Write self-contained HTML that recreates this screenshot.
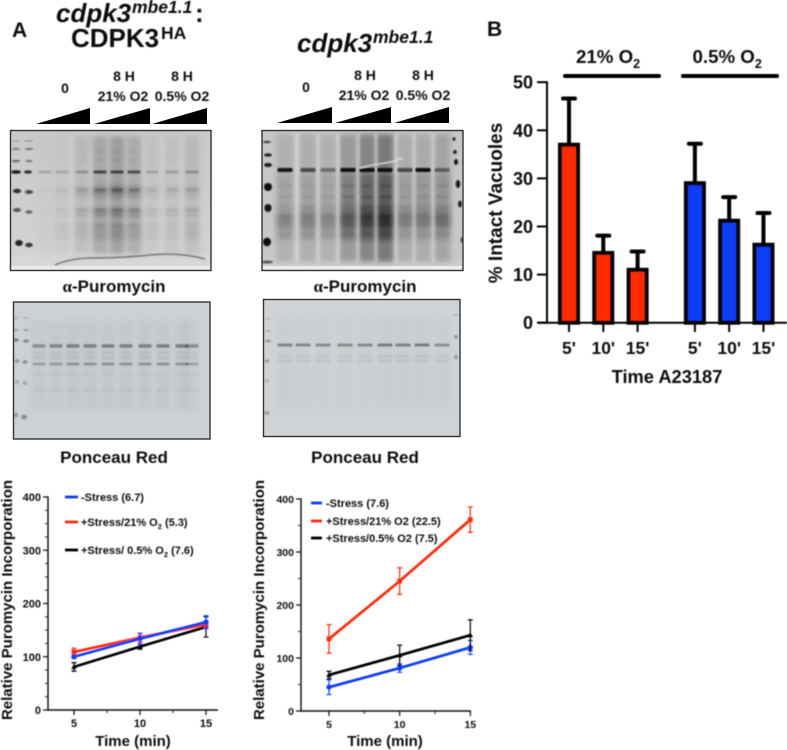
<!DOCTYPE html>
<html lang="en">
<head>
<meta charset="utf-8">
<title>CDPK3 figure</title>
<style>
html,body{margin:0;padding:0;background:#fff;}
svg{display:block;font-family:"Liberation Sans",sans-serif;}
text{font-weight:bold;fill:#0d0d0d;}
</style>
</head>
<body>
<svg id="fig" width="787" height="750" viewBox="0 0 787 750" xmlns="http://www.w3.org/2000/svg">
<defs>
<filter id="marks" x="-5%" y="-5%" width="110%" height="110%"><feGaussianBlur stdDeviation="0.8"/></filter>
<filter id="soft" x="-5%" y="-5%" width="110%" height="110%"><feGaussianBlur stdDeviation="1.35"/></filter>
<filter id="softer" x="-5%" y="-5%" width="110%" height="110%"><feGaussianBlur stdDeviation="2.6"/></filter>
<filter id="txt" x="-5%" y="-10%" width="110%" height="120%"><feGaussianBlur stdDeviation="0.4"/></filter>
<linearGradient id="bg1" x1="0" y1="0" x2="0" y2="1"><stop offset="0" stop-color="#c9c9c9"/><stop offset="0.85" stop-color="#d2d2d2"/><stop offset="1" stop-color="#dadada"/></linearGradient>
<linearGradient id="bg2" x1="0" y1="0" x2="0" y2="1"><stop offset="0" stop-color="#c6c6c6"/><stop offset="0.9" stop-color="#c8c8c8"/><stop offset="1" stop-color="#d0d0d0"/></linearGradient>
<clipPath id="clip-blot1"><rect x="10" y="130" width="201" height="140"/></clipPath>
<clipPath id="clip-blot2"><rect x="262" y="130" width="201" height="140"/></clipPath>
<clipPath id="clip-pon1"><rect x="13" y="302" width="197" height="137"/></clipPath>
<clipPath id="clip-pon2"><rect x="263" y="299" width="197" height="137"/></clipPath>
</defs>

<g id="panel-labels" filter="url(#txt)">
<text x="12" y="37" font-size="21">A</text>
<text x="487" y="36" font-size="21">B</text>

<g>
<text x="56" y="22" font-size="26" font-style="italic">cdpk3</text>
<text x="132" y="13" font-size="17.5" font-style="italic">mbe1.1</text>
<text x="195" y="22" font-size="26">:</text>
<text x="71" y="47" font-size="26">CDPK3</text>
<text x="161" y="39" font-size="17.5">HA</text>
</g>
<g>
<text x="297" y="52" font-size="26" font-style="italic">cdpk3</text>
<text x="373" y="43" font-size="17.5" font-style="italic">mbe1.1</text>
</g>

<g font-size="14" text-anchor="middle">
<text x="65" y="93">0</text>
<text x="124" y="81">8 H</text>
<text x="123" y="101">21% O2</text>
<text x="182" y="81">8 H</text>
<text x="182" y="101">0.5% O2</text>
</g>
<g font-size="14" text-anchor="middle">
<text x="306" y="92">0</text>
<text x="365" y="80">8 H</text>
<text x="364" y="100">21% O2</text>
<text x="423" y="80">8 H</text>
<text x="423" y="100">0.5% O2</text>
</g>
</g>

<g fill="#000">
<polygon points="36,124 90,108 90,124"/><polygon points="94,124 150,108 150,124"/><polygon points="152,124 207,108 207,124"/>
<polygon points="277,123 332,107 332,123"/><polygon points="335,123 391,107 391,123"/><polygon points="394,123 449,107 449,123"/>
</g>

<g id="blots"></g>

<g filter="url(#txt)" font-size="17" text-anchor="middle">
<text x="114" y="292"><tspan font-family="Liberation Serif">α</tspan>-Puromycin</text>
<text x="365" y="292"><tspan font-family="Liberation Serif">α</tspan>-Puromycin</text>
<text x="114" y="463">Ponceau Red</text>
<text x="365" y="463">Ponceau Red</text>
</g>

<g id="bar-chart" filter="url(#txt)"></g>
<g id="line-left" filter="url(#txt)"></g>
<g id="line-right" filter="url(#txt)"></g>
</svg>

<script>
// ---- Bar chart data (panel B) ----
const barCategories = ["5'", "10'", "15'", "5'", "10'", "15'"];
const barGroups = ["21", "21", "21", "0.5", "0.5", "0.5"];
const barValues = [37, 14.5, 11, 29, 21.2, 16.2];
const barErrors = [9.6, 3.6, 3.8, 8.2, 4.9, 6.6];
const barYTicks = [0, 10, 20, 30, 40, 50];

// ---- Line chart data, left (cdpk3 complement) ----
const leftTimes = [5, 10, 15];
const leftYTicks = [0, 100, 200, 300, 400];
const leftMinorTicks = [25, 50, 75, 125, 150, 175, 225, 250, 275, 325, 350, 375];
const leftBlue = [100, 134, 165];
const leftBlueErr = [3, 10, 12];
const leftRed = [109, 136, 161];
const leftRedErr = [7, 8, 5];
const leftBlack = [81, 119, 156];
const leftBlackErr = [8, 5, 19];

// ---- Line chart data, right (cdpk3) ----
const rightTimes = [5, 10, 15];
const rightYTicks = [0, 100, 200, 300, 400];
const rightMinorTicks = [50, 150, 250, 350];
const rightBlue = [45, 81, 120];
const rightBlueErr = [14, 8, 13];
const rightRed = [136, 245, 361];
const rightRedErr = [27, 25, 24];
const rightBlack = [68, 105, 143];
const rightBlackErr = [7, 19, 29];

const NS = 'http://www.w3.org/2000/svg';
function mk(tag, attrs, parent) {
  const e = document.createElementNS(NS, tag);
  for (const k in attrs) e.setAttribute(k, attrs[k]);
  parent.appendChild(e);
  return e;
}
function label(parent, x, y, str, size, anchor, extra) {
  const t = mk('text', Object.assign({x: x, y: y, 'font-size': size, 'text-anchor': anchor}, extra || {}), parent);
  t.textContent = str;
  return t;
}

/* ---------- Panel B bar chart ---------- */
(function () {
  const g = document.getElementById('bar-chart');
  const yScale = v => 322.7 - v * 4.81;
  const xScale = i => 569 + 34.3 * (i < 3 ? i : i + 0.67);
  const colors = {"21": "#ff2a00", "0.5": "#0a3cf5"};

  barValues.forEach(function (v, i) {
    const cx = xScale(i);
    const errLine = mk('line', {x1: cx, x2: cx, y1: yScale(v), y2: yScale(v + barErrors[i]), stroke: '#000', 'stroke-width': 4}, g);
    
    
    const errCap = mk('line', {x1: cx - 6, x2: cx + 6, y1: yScale(v + barErrors[i]), y2: yScale(v + barErrors[i]), stroke: '#000', 'stroke-width': 4, 'stroke-linecap': 'round'}, g);
    
    
    const bar = mk('rect', {x: cx - 9, y: yScale(v), width: 18, height: yScale(0) - yScale(v), fill: colors[barGroups[i]], stroke: '#000', 'stroke-width': 4}, g);
    
    
    const tick = mk('line', {x1: cx, x2: cx, y1: 323, y2: 332, stroke: '#000', 'stroke-width': 2}, g);
    
    
    const lab = label(g, cx, 354, barCategories[i], 17.5, 'middle');
    
    
  });

  const yAxis = mk('line', {x1: 547, x2: 547, y1: yScale(50) - 1, y2: 323.7, stroke: '#000', 'stroke-width': 2}, g);
  
  
  const xAxis = mk('line', {x1: 537, x2: 787, y1: 322.7, y2: 322.7, stroke: '#000', 'stroke-width': 2}, g);
  
  

  barYTicks.forEach(function (v) {
    const t = mk('line', {x1: 537, x2: 547, y1: yScale(v), y2: yScale(v), stroke: '#000', 'stroke-width': 2}, g);
    
    
    const l = label(g, 533, yScale(v) + 6.5, String(v), 18, 'end');
    
    
  });

  const yTitle = label(g, 0, 0, '% Intact Vacuoles', 19, 'middle', {transform: 'translate(502,203) rotate(-90)'});
  
  
  const xTitle = label(g, 667, 383, 'Time A23187', 18.3, 'middle');
  
  

  const b1 = mk('line', {x1: 565, x2: 659, y1: 76, y2: 76, stroke: '#000', 'stroke-width': 4, 'stroke-linecap': 'round'}, g);
  
  
  const b2 = mk('line', {x1: 683, x2: 777, y1: 76, y2: 76, stroke: '#000', 'stroke-width': 4, 'stroke-linecap': 'round'}, g);
  
  

  const g1 = label(g, 576, 63, '21% O', 18.7, 'start');
  
  
  const g1s = mk('tspan', {dy: 5, 'font-size': 12.5}, g1);
  g1s.textContent = '2';
  const g2 = label(g, 692.5, 63, '0.5% O', 18.7, 'start');
  
  
  const g2s = mk('tspan', {dy: 5, 'font-size': 12.5}, g2);
  g2s.textContent = '2';
})();

/* ---------- Panel A line charts ---------- */
const BLUE = '#0f3cf0', RED = '#ff2a0a', BLACK = '#000';
function drawLines(g, c) {
  const x = t => c.x5 + (t - 5) * c.xPer;
  const y = v => c.y0 - v * c.yPer;

  const yAx = mk('line', {x1: c.axisX, x2: c.axisX, y1: y(400) - 0.7, y2: c.y0 + 0.7, stroke: '#111', 'stroke-width': 1.4}, g);
  
  
  const xAx = mk('line', {x1: c.axisX, x2: c.axisEnd, y1: c.y0, y2: c.y0, stroke: '#111', 'stroke-width': 1.4}, g);
  
  

  c.yTicks.forEach(function (v) {
    const t = mk('line', {x1: c.axisX - 5, x2: c.axisX, y1: y(v), y2: y(v), stroke: '#111', 'stroke-width': 1.2}, g);
    
    
    const l = label(g, c.axisX - 7, y(v) + 4, String(v), c.tickSize, 'end');
    
    
  });
  c.minor.forEach(function (v) {
    const t = mk('line', {x1: c.axisX - 3, x2: c.axisX, y1: y(v), y2: y(v), stroke: '#111', 'stroke-width': 0.9}, g);
    
    
  });
  c.times.forEach(function (v) {
    const t = mk('line', {x1: x(v), x2: x(v), y1: c.y0, y2: c.y0 + 5, stroke: '#111', 'stroke-width': 1.2}, g);
    
    
    const l = label(g, x(v), c.y0 + 17, String(v), c.tickSize, 'middle');
    
    
  });
  [7.5, 12.5].forEach(function (v) {
    const t = mk('line', {x1: x(v), x2: x(v), y1: c.y0, y2: c.y0 + 3, stroke: '#111', 'stroke-width': 0.9}, g);
    
    
  });

  c.series.forEach(function (s) {
    s.vals.forEach(function (v, i) {
      const px = x(c.times[i]);
      const e = mk('path', {
        d: 'M' + (px - 2.5) + ' ' + y(v + s.err[i]) + 'H' + (px + 2.5) + 'M' + px + ' ' + y(v + s.err[i]) + 'V' + y(v - s.err[i]) + 'M' + (px - 2.5) + ' ' + y(v - s.err[i]) + 'H' + (px + 2.5),
        fill: 'none', stroke: s.color, 'stroke-width': 1.2}, g);
      
      
      if (s.marker === 'circle') {
        const m = mk('circle', {cx: px, cy: y(v), r: 2.6, fill: s.color}, g);
        
        
      } else if (s.marker === 'square') {
        const m = mk('rect', {x: px - 2.4, y: y(v) - 2.4, width: 4.8, height: 4.8, fill: s.color}, g);
        
        
      } else {
        const m = mk('path', {d: 'M' + px + ' ' + (y(v) - 3) + 'l2.8 5h-5.6z', fill: s.color}, g);
        
        
      }
    });
    const pts = s.vals.map(function (v, i) { return x(c.times[i]) + ',' + y(v); }).join(' ');
    const ln = mk('polyline', {points: pts, fill: 'none', stroke: s.color, 'stroke-width': 2.7}, g);
    
    
  });

  const xT = label(g, c.xTitleX, 746, 'Time (min)', 15, 'middle');
  
  
  const yT = label(g, 0, 0, 'Relative Puromycin Incorporation', 15, 'middle', {transform: 'translate(' + c.yTitleX + ',600) rotate(-90)'});
  
  
}

drawLines(document.getElementById('line-left'), {
  x5: 74, xPer: 13.2, y0: 710, yPer: 213 / 400, axisX: 48, axisEnd: 218, tickSize: 11,
  times: leftTimes, yTicks: leftYTicks, minor: leftMinorTicks, xTitleX: 133, yTitleX: 12,
  series: [
    {vals: leftBlack, err: leftBlackErr, color: BLACK, marker: 'tri'},
    {vals: leftRed, err: leftRedErr, color: RED, marker: 'square'},
    {vals: leftBlue, err: leftBlueErr, color: BLUE, marker: 'circle'}
  ]
});
drawLines(document.getElementById('line-right'), {
  x5: 329, xPer: 14.13, y0: 711, yPer: 212 / 400, axisX: 301, axisEnd: 471, tickSize: 10.5,
  times: rightTimes, yTicks: rightYTicks, minor: rightMinorTicks, xTitleX: 385, yTitleX: 264,
  series: [
    {vals: rightBlue, err: rightBlueErr, color: BLUE, marker: 'circle'},
    {vals: rightBlack, err: rightBlackErr, color: BLACK, marker: 'tri'},
    {vals: rightRed, err: rightRedErr, color: RED, marker: 'square'}
  ]
});

/* legends */
(function () {
  const gl = document.getElementById('line-left');
  const gr = document.getElementById('line-right');
  function entry(g, x1, x2, y, color, tx, str, sub, tail) {
    const ln = mk('line', {x1: x1, x2: x2, y1: y, y2: y, stroke: color, 'stroke-width': 2.8}, g);
    
    
    const t = label(g, tx, y + 4, str, 11, 'start');
    
    
    if (sub) {
      const s = mk('tspan', {dy: 3, 'font-size': 7.5}, t);
      s.textContent = sub;
      const r = mk('tspan', {dy: -3}, t);
      r.textContent = tail;
    }
  }
  entry(gl, 65, 78, 497, BLUE, 81, '-Stress (6.7)');
  entry(gl, 65, 78, 522, RED, 81, '+Stress/21% O', '2', ' (5.3)');
  entry(gl, 65, 78, 550, BLACK, 81, '+Stress/ 0.5% O', '2', ' (7.6)');
  entry(gr, 311, 322, 503, BLUE, 326, '-Stress (7.6)');
  entry(gr, 311, 322, 521, RED, 326, '+Stress/21% O2 (22.5)');
  entry(gr, 311, 322, 538, BLACK, 326, '+Stress/0.5% O2 (7.5)');
})();

/* ---------- Gel / membrane images (decorative photographic panels) ---------- */
(function () {
  const root = document.getElementById('blots');

  function panel(o) {
    const g = mk('g', {'clip-path': 'url(#' + o.clip + ')'}, root);
    
    
    mk('rect', {x: o.x, y: o.y, width: o.w, height: o.h, fill: o.bg}, g);
    const wide = mk('g', {filter: 'url(#softer)'}, g);
    const fine = mk('g', {filter: 'url(#soft)'}, g);
    const sharp = mk('g', {filter: 'url(#marks)'}, g);
    o.lanes.forEach(function (l, i) {
      mk('rect', {x: l[0] - o.laneW / 2, y: o.smearTop, width: o.laneW, height: o.smearH, fill: o.smear, opacity: l[1] * o.smearGain}, wide);
      o.deep.forEach(function (d) {
        mk('rect', {x: l[0] - o.laneW / 2, y: d[0], width: o.laneW, height: d[1], fill: '#111', opacity: Math.min(1, l[1] * d[2])}, wide);
      });
      o.bands.forEach(function (b) {
        const isMain = b[3];
        mk('rect', {x: l[0] - o.laneW / 2 + 1, y: b[0] - b[1] / 2, width: o.laneW - 2, height: b[1], rx: 1, fill: '#0a0a0a',
          opacity: Math.min(1, b[2] * (isMain ? (o.main ? o.main[i] : 1) : l[1]))}, isMain ? sharp : fine);
      });
    });
    o.gaps.forEach(function (x) {
      mk('rect', {x: x - 1.5, y: o.smearTop, width: 3, height: o.smearH, fill: '#dedede', opacity: o.gapOp}, fine);
    });
    o.markers.forEach(function (m) {
      mk('ellipse', {cx: m[0], cy: m[1], rx: m[2], ry: m[3], fill: '#0a0a0a', opacity: m[4]}, sharp);
    });
    (o.extra || []).forEach(function (f) { f(g, sharp); });
    const frame = mk('rect', {x: o.x, y: o.y, width: o.w, height: o.h, fill: 'none', stroke: '#333', 'stroke-width': 1.4}, root);
    
    
  }

  panel({
    name: 'puromycin-blot-left', clip: 'clip-blot1', x: 10.5, y: 130.5, w: 200.5, h: 140, bg: 'url(#bg1)',
    laneW: 15, smear: '#555', smearTop: 136, smearH: 118, smearGain: 0.5,
    lanes: [[45, .03], [62, .1], [82, .28], [100, .6], [117, .76], [134, .56], [152, .16], [172, .2], [192, .28]],
    main: [.3, .3, .4, 1.1, 1.1, 1, .3, .35, .45],
    deep: [[186, 10, .4], [208, 8, .35], [222, 18, .2]],
    bands: [[172, 3, .55, 1], [190, 2.4, .5], [198, 2, .15], [210, 2.4, .3], [216, 2, .2], [160, 2, .12], [152, 2, .1], [226, 2, .12]],
    gaps: [72, 91, 109, 126, 143, 162, 182],
    gapOp: .12,
    markers: [[16, 172, 5, 1.8, .95], [28, 172, 4, 1.6, .85], [17, 191, 4, 2.2, .85], [29, 192, 4, 2, .7],
      [17, 210, 4, 2, .65], [29, 212, 3.6, 1.8, .5], [19, 243, 3.8, 3, .9], [29, 245, 3.8, 2.2, .8],
      [16, 161, 4, 1.2, .5], [29, 161, 3.6, 1.2, .4], [16, 149, 4, 1, .45], [29, 149, 4, 1, .45], [16, 141, 3, .7, .2], [29, 141, 5, .7, .25]],
    extra: [function (g, sharp) {
      mk('path', {d: 'M55 265Q70 258 95 258T150 255T205 259', fill: 'none', stroke: '#333', 'stroke-width': 1, opacity: .85}, sharp);
      mk('rect', {x: 10, y: 266, width: 201, height: 5, fill: '#e8e8e8'}, g);
    }]
  });

  panel({
    name: 'puromycin-blot-right', clip: 'clip-blot2', x: 262, y: 130.5, w: 201, h: 140, bg: 'url(#bg2)',
    laneW: 17, smear: '#3a3a3a', smearTop: 134, smearH: 128, smearGain: 0.55,
    lanes: [[285, .3], [308, .32], [328, .3], [348, .6], [367, .85], [385, 1], [405, .34], [423, .36], [442, .42]],
    main: [1, .6, .4, 1.3, 1.1, 1.3, .6, 1.2, .45],
    deep: [[174, 50, .3], [214, 26, .45], [205, 22, .3]],
    bands: [[170, 4, .95, 1], [186, 2.6, .22], [197, 2.6, .28], [216, 1.6, .25], [226, 2, .14], [234, 2, .14]],
    gaps: [297, 318, 338, 358, 376, 396, 414, 433],
    gapOp: .6,
    markers: [[267, 142, 4, 1, .8], [268, 155, 4, 1.6, .9], [268, 165, 4, 2, .95], [268, 187, 4, 4, 1], [268, 208, 3.6, 4, .95], [267, 242, 4, 4.2, 1],
      [454, 139, 1.6, 1.6, .9], [455, 152, 1.8, 2, .9], [456, 162, 2, 3, .95], [458, 184, 2.2, 4, .95], [460, 204, 2, 3.4, .9], [462, 240, 1.4, 3, .7],
      [267, 262, 6, 1.2, .7]],
    extra: [function (g, sharp) {
      mk('rect', {x: 262, y: 266, width: 201, height: 5, fill: '#ececec'}, g);
      mk('path', {d: 'M360 168Q375 164 385 163T400 158L403 160', fill: 'none', stroke: '#e8e8e8', 'stroke-width': 1.2}, sharp);
    }]
  });

  panel({
    name: 'ponceau-membrane-left', clip: 'clip-pon1', x: 13.5, y: 302, w: 196.5, h: 137, bg: '#ced1d3',
    laneW: 15, smear: '#8a8f92', smearTop: 320, smearH: 90, smearGain: .16,
    lanes: [[39, .7], [56, .8], [73, .85], [90, .85], [108, .85], [126, .85], [145, .85], [163, .85], [182, .85], [192, .5]],
    main: [.7, .8, .9, .9, .9, .9, .9, .9, .9, .7],
    deep: [],
    bands: [[346, 3.4, .42, 1], [353, 2, .12], [358, 2, .12], [364, 2.6, .34, 1], [375, 2, .07], [390, 3, .06]],
    gaps: [], gapOp: 0,
    markers: [[16, 318, 3, 1, .15], [26, 318, 3, 1, .15], [16, 330, 2.5, 1.2, .22], [26, 330, 3, 1.2, .22], [16, 340, 3, 1.6, .4], [26, 341, 3, 1.6, .35],
      [17, 361, 2.5, 2, .25], [25, 362, 2.5, 2, .3], [17, 382, 2, 2, .18], [25, 383, 2.5, 2, .2], [16, 415, 2, 2.4, .25], [24, 417, 3, 2.4, .3]]
  });

  panel({
    name: 'ponceau-membrane-right', clip: 'clip-pon2', x: 263.5, y: 299.5, w: 196.5, h: 137, bg: '#d0d3d5',
    laneW: 17, smear: '#8f9498', smearTop: 318, smearH: 90, smearGain: .1,
    lanes: [[285, .7], [303, .75], [323, .75], [345, .75], [365, .75], [385, .85], [403, .85], [422, .85], [442, .7]],
    main: [.8, .8, .75, .75, .75, .9, .85, .9, .7],
    deep: [],
    bands: [[345, 2.8, .48, 1], [356, 2, .1], [361, 2, .13]],
    gaps: [], gapOp: 0,
    markers: [[268, 319, 3, .7, .15], [268, 331, 3, .9, .2], [268, 341, 3, 1.2, .32], [267, 361, 2.5, 1.6, .28], [267, 381, 2, 1.6, .16], [267, 413, 2.5, 2, .25],
      [456, 315, 2, 1, .15], [456, 337, 2, 2, .28], [456, 357, 1.6, 2.4, .28]]
  });
})();
</script>
</body>
</html>
